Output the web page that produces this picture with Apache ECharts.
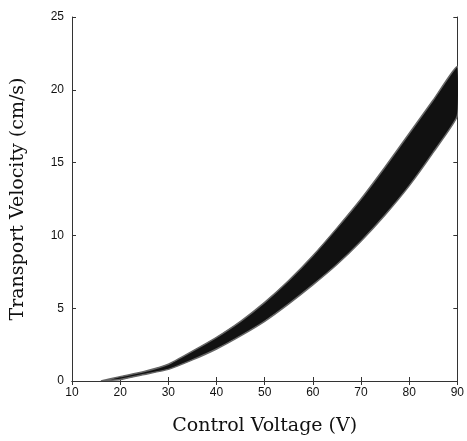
<!DOCTYPE html>
<html>
<head>
<meta charset="utf-8">
<script src="https://cdn.jsdelivr.net/npm/echarts@6/dist/echarts.min.js"></script>
<style>
  html, body { margin: 0; padding: 0; background: #fff; }
  #chart { width: 467px; height: 441px; }
</style>
</head>
<body>
<div id="chart"></div>
<script>
// control voltage (V) and the lower / upper edge of the velocity band (cm/s)
const voltage = [16, 20, 25, 30, 35, 40, 45, 50, 55, 60, 65, 70, 75, 80, 85, 90];
const lowerVelocity = [0, 0.1, 0.45, 0.8, 1.45, 2.2, 3.1, 4.1, 5.3, 6.6, 8.0, 9.6, 11.4, 13.4, 15.7, 18.2];
const upperVelocity = [0, 0.3, 0.65, 1.15, 2.05, 3.0, 4.1, 5.4, 6.9, 8.6, 10.5, 12.5, 14.7, 17.0, 19.3, 21.6];
const xTicks = [10, 20, 30, 40, 50, 60, 70, 80, 90];
const yTicks = [0, 5, 10, 15, 20, 25];

const chart = echarts.init(document.getElementById("chart"));

const bandData = voltage.map((v, i) => [v, lowerVelocity[i], upperVelocity[i]]);

const tickFont = {
  color: "#111",
  fontFamily: "Liberation Sans",
  fontSize: 12,
};
const axisLine = { lineStyle: { color: "#333", width: 1 } };
const titleFont = { fontFamily: "DejaVu Serif", fontSize: 19, color: "#111" };

// the whole band is drawn once, as one polygon: upper edge out, lower edge back
const renderBand = (params, api) => {
  if (params.dataIndex !== 0) return null;
  const upper = bandData.map((d) => api.coord([d[0], d[2]]));
  const lower = bandData.map((d) => api.coord([d[0], d[1]])).reverse();
  return {
    type: "polygon",
    shape: { points: upper.concat(lower), smooth: 0.15 },
    style: { fill: "#111", stroke: "#666", lineWidth: 1.5 },
  };
};

const option = {
  backgroundColor: "#fff",
  animation: false,
  grid: { left: 72, right: 8, top: 17, bottom: 60 },
  xAxis: [
    {
      type: "value",
      min: xTicks[0],
      max: xTicks[xTicks.length - 1],
      interval: 10,
      name: "Control Voltage (V)",
      nameLocation: "middle",
      nameGap: 36,
      nameTextStyle: titleFont,
      axisLine: axisLine,
      axisTick: { inside: true, length: 4, lineStyle: { color: "#333" } },
      axisLabel: { ...tickFont, margin: 6 },
      splitLine: { show: false },
    },
    {
      type: "value",
      position: "top",
      min: xTicks[0],
      max: xTicks[xTicks.length - 1],
      interval: 10,
      axisLine: axisLine,
      axisTick: { inside: true, length: 4, lineStyle: { color: "#333" } },
      axisLabel: { show: false },
      splitLine: { show: false },
    },
  ],
  yAxis: [
    {
      type: "value",
      min: yTicks[0],
      max: yTicks[yTicks.length - 1],
      interval: 5,
      name: "Transport Velocity (cm/s)",
      nameLocation: "middle",
      nameGap: 44,
      nameTextStyle: titleFont,
      axisLine: { show: true, lineStyle: { color: "#333", width: 1 } },
      axisTick: { show: true, inside: true, length: 4, lineStyle: { color: "#333" } },
      axisLabel: { ...tickFont, margin: 8 },
      splitLine: { show: false },
    },
    {
      type: "value",
      position: "right",
      min: yTicks[0],
      max: yTicks[yTicks.length - 1],
      interval: 5,
      axisLine: { show: true, lineStyle: { color: "#333", width: 1 } },
      axisTick: { show: true, inside: true, length: 4, lineStyle: { color: "#333" } },
      axisLabel: { show: false },
      splitLine: { show: false },
    },
  ],
  series: [
    {
      name: "band",
      type: "custom",
      renderItem: renderBand,
      data: bandData,
      encode: { x: 0, y: [1, 2] },
      clip: true,
    },
  ],
};

chart.setOption(option);
</script>
</body>
</html>
